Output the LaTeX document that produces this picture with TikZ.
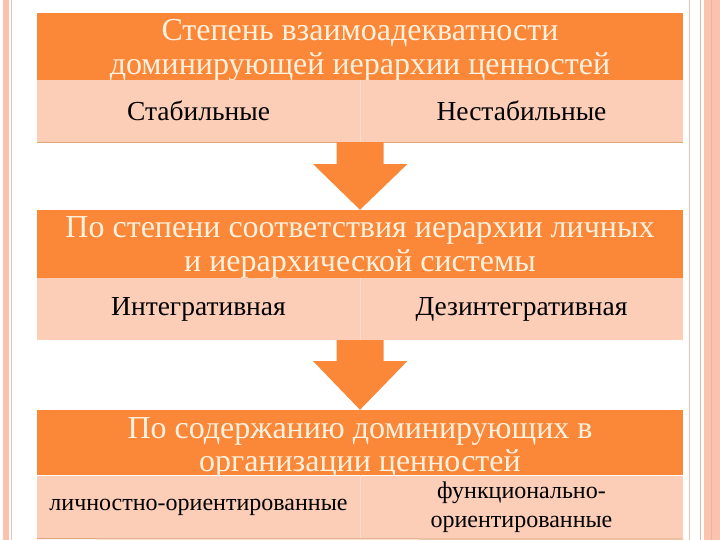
\documentclass[tikz,border=0pt]{standalone}
\usepackage{fontspec}
\setmainfont{Liberation Serif}
\usetikzlibrary{calc}
\definecolor{org}{HTML}{FA8838}
\definecolor{peach}{HTML}{FCCDB7}
\definecolor{cream}{HTML}{FFF1DF}
\definecolor{bandpink}{HTML}{FBC3AD}
\definecolor{lineA}{HTML}{E8C6B8}
\definecolor{lineB}{HTML}{F0B29C}
\definecolor{edge}{HTML}{E0A878}
\definecolor{divc}{HTML}{FDDDCD}
\begin{document}
\begin{tikzpicture}[x=1pt,y=-1pt,
  hdr/.style={fill=org, minimum width=646pt, minimum height=#1, inner sep=0pt},
  htxt/.style={text=cream, align=center, inner sep=0pt, font=\fontsize{32}{34}\selectfont},
  cell/.style={fill=peach, text=black, minimum width=323pt, minimum height=#1, inner sep=0pt, align=center, font=\fontsize{27.5}{30}\selectfont},
  sep/.style={divc, line width=1pt},
  bot/.style={edge, line width=1pt},
  blk/.style={fill=org}]
\useasboundingbox (0,0) rectangle (720,540);
\fill[white] (0,0) rectangle (720,540);
% page border stripes
\fill[bandpink] (2.5,0) rectangle (9,540);
\draw[lineA, line width=1pt] (11.5,0) -- (11.5,540);
\draw[lineA, line width=1pt] (689,0) -- (689,540);
\draw[lineB, line width=1.2pt] (700.5,0) -- (700.5,540);
\fill[bandpink] (704,0) rectangle (720,540);
\draw[lineB, line width=0.8pt] (711,0) -- (711,540);
% block 1
\node[hdr=67pt] (h1) at (360,46.5) {};
\node[htxt] (t1) at (360,50) {Степень взаимоадекватности\\доминирующей иерархии ценностей};
\node[cell=62pt] (c1l) at (198.5,111) {Стабильные};
\node[cell=62pt] (c1r) at (521.5,111) {Нестабильные};
\draw[sep] (c1l.north east) -- (c1l.south east);
\draw[bot] (c1l.south west) -- (c1r.south east);
% block 2
\node[hdr=68pt] (h2) at (360,244) {};
\node[htxt] (t2) at (360,247) {По степени соответствия иерархии личных\\и иерархической системы};
\node[cell=62pt] (c2l) at (198.5,309) {Интегративная};
\node[cell=62pt] (c2r) at (521.5,309) {Дезинтегративная};
\draw[sep] (c2l.north east) -- (c2l.south east);
% block 3
\node[hdr=65pt] (h3) at (360,442.5) {};
\node[htxt, font=\fontsize{32}{33}\selectfont] (t3) at (360,447.5) {По содержанию доминирующих в\\организации ценностей};
\node[cell=63pt, font=\fontsize{24}{29}\selectfont] (c3l) at (198.5,507) {личностно-ориентированные};
\node[cell=63pt, font=\fontsize{24}{29}\selectfont] (c3r) at (521.5,507.5) {функционально-\\ориентированные};
\draw[sep] (c3l.north east) -- (c3l.south east);
\draw[bot] (c3l.south west) -- (c3r.south east);
% block arrows
\fill[blk] ($(c1l.south east)+(-23.5,0)$) -- ($(c1l.south east)+(23.5,0)$) -- ($(c1l.south east)+(23.5,22)$) -- ($(c1l.south east)+(47,22)$) -- (h2.north) -- ($(c1l.south east)+(-47,22)$) -- ($(c1l.south east)+(-23.5,22)$) -- cycle;
\fill[blk] ($(c2l.south east)+(-23.5,0)$) -- ($(c2l.south east)+(23.5,0)$) -- ($(c2l.south east)+(23.5,21)$) -- ($(c2l.south east)+(47,21)$) -- (h3.north) -- ($(c2l.south east)+(-47,21)$) -- ($(c2l.south east)+(-23.5,21)$) -- cycle;
\end{tikzpicture}
\end{document}
